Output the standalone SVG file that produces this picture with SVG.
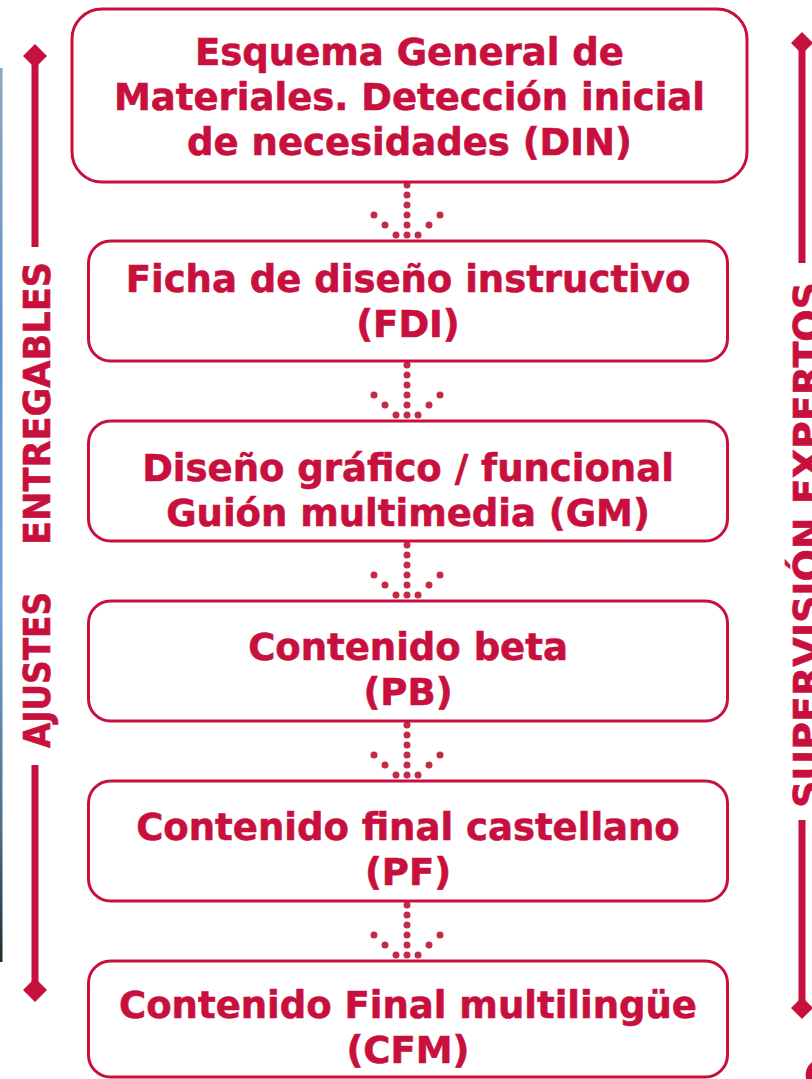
<svg xmlns="http://www.w3.org/2000/svg" width="812" height="1079" viewBox="0 0 812 1079">
<defs>
<style>
.box{fill:#ffffff;stroke:#c8103e;stroke-width:3}
.t{font-family:"DejaVu Sans",Verdana,sans-serif;font-weight:bold;font-size:37px;fill:#c8103e;stroke:#c8103e;stroke-width:0.6;text-anchor:middle}
.side{font-family:"DejaVu Sans",Verdana,sans-serif;font-weight:bold;font-size:37px;fill:#c8103e;stroke:#c8103e;stroke-width:0.6}
.bar{stroke:#c8103e;stroke-width:7;fill:none}
.dia{fill:#c8103e}
.dot{fill:#c32a45}
</style>
<linearGradient id="strip" x1="0" y1="0" x2="0" y2="1">
<stop offset="0" stop-color="#8ea7bf"/>
<stop offset="0.3" stop-color="#5f93cc"/>
<stop offset="0.6" stop-color="#6fa3d6"/>
<stop offset="0.85" stop-color="#4e6f86"/>
<stop offset="1" stop-color="#1f2a30"/>
</linearGradient>
<g id="arrow">
<circle class="dot" cx="0" cy="0" r="3.5"/>
<circle class="dot" cx="0" cy="10" r="3.5"/>
<circle class="dot" cx="0" cy="20" r="3.5"/>
<circle class="dot" cx="0" cy="30" r="3.5"/>
<circle class="dot" cx="0" cy="40" r="3.5"/>
<circle class="dot" cx="0" cy="50" r="3.5"/>
<circle class="dot" cx="0" cy="60" r="3.5"/>
<circle class="dot" cx="-33" cy="30" r="3.5"/>
<circle class="dot" cx="-22" cy="40" r="3.5"/>
<circle class="dot" cx="-11" cy="50" r="3.5"/>
<circle class="dot" cx="33" cy="30" r="3.5"/>
<circle class="dot" cx="22" cy="40" r="3.5"/>
<circle class="dot" cx="11" cy="50" r="3.5"/>
</g>
</defs>
<rect x="0" y="0" width="812" height="1079" fill="#ffffff"/>
<rect x="0" y="68" width="2.5" height="894" fill="url(#strip)"/>
<path d="M812 1062 Q804 1068 806 1079 L812 1079 Z" fill="#c8103e"/>

<g id="connectors">
<use href="#arrow" x="407" y="185"/>
<use href="#arrow" x="407" y="365"/>
<use href="#arrow" x="407" y="545"/>
<use href="#arrow" x="407" y="725"/>
<use href="#arrow" x="407" y="905"/>
</g>

<g id="left-axis">
<line class="bar" x1="35" y1="58" x2="35" y2="247"/>
<line class="bar" x1="35" y1="765" x2="35" y2="986"/>
<path class="dia" d="M35 44 L47 56 L35 68 L23 56 Z"/>
<path class="dia" d="M35 978 L47 990 L35 1002 L23 990 Z"/>
<text class="side" transform="translate(50 748) rotate(-90)"><tspan x="0" textLength="156" lengthAdjust="spacingAndGlyphs">AJUSTES</tspan><tspan x="203" textLength="283" lengthAdjust="spacingAndGlyphs">ENTREGABLES</tspan></text>
</g>

<g id="right-axis">
<line class="bar" x1="802" y1="46" x2="802" y2="263"/>
<line class="bar" x1="802" y1="820" x2="802" y2="1004"/>
<path class="dia" d="M802 32 L813 43 L802 54 L791 43 Z"/>
<path class="dia" d="M802 997 L813 1008 L802 1019 L791 1008 Z"/>
<text class="side" transform="translate(820 808) rotate(-90)" textLength="526" lengthAdjust="spacingAndGlyphs">SUPERVISIÓN EXPERTOS</text>
</g>

<g id="n1">
<rect class="box" x="72" y="9" width="675" height="173" rx="30"/>
<text class="t" x="409.5" y="65">Esquema General de</text>
<text class="t" x="409.5" y="110">Materiales. Detección inicial</text>
<text class="t" x="409.5" y="155">de necesidades (DIN)</text>
</g>
<g id="n2">
<rect class="box" x="88.5" y="241" width="639" height="120" rx="22"/>
<text class="t" x="408" y="292">Ficha de diseño instructivo</text>
<text class="t" x="408" y="337">(FDI)</text>
</g>
<g id="n3">
<rect class="box" x="88.5" y="421" width="639" height="120" rx="22"/>
<text class="t" x="408" y="481">Diseño gráfico / funcional</text>
<text class="t" x="408" y="526">Guión multimedia (GM)</text>
</g>
<g id="n4">
<rect class="box" x="88.5" y="601" width="639" height="120" rx="22"/>
<text class="t" x="408" y="660">Contenido beta</text>
<text class="t" x="408" y="705">(PB)</text>
</g>
<g id="n5">
<rect class="box" x="88.5" y="781" width="639" height="120" rx="22"/>
<text class="t" x="408" y="840">Contenido final castellano</text>
<text class="t" x="408" y="885">(PF)</text>
</g>
<g id="n6">
<rect class="box" x="88.5" y="961" width="639" height="116" rx="22"/>
<text class="t" x="408" y="1018">Contenido Final multilingüe</text>
<text class="t" x="408" y="1063">(CFM)</text>
</g>
</svg>
